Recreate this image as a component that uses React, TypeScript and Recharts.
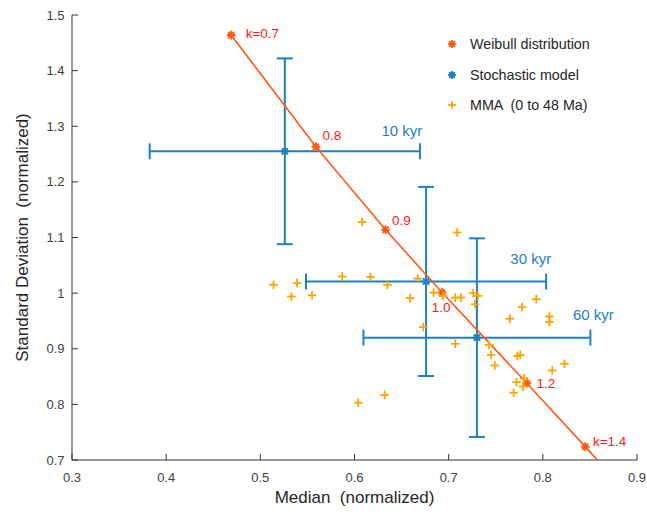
import React from "react";
import { ScatterChart, Scatter, XAxis, YAxis, ErrorBar, Legend } from "recharts";

// Weibull distribution, one point per shape parameter k
const weibullLabels = ["k=0.7", "0.8", "0.9", "1.0", "1.2", "k=1.4"];
const weibullMedian = [0.469, 0.559, 0.633, 0.693, 0.783, 0.845];
const weibullStd = [1.464, 1.263, 1.114, 1.001, 0.838, 0.724];

// the curve keeps going past k=1.4 down to the bottom axis
const curveMedian = [...weibullMedian, 0.858];
const curveStd = [...weibullStd, 0.7];

// stochastic model, centre +/- spread
const modelLabels = ["10 kyr", "30 kyr", "60 kyr"];
const modelMedian = [0.526, 0.676, 0.73];
const modelStd = [1.255, 1.021, 0.92];
const modelMedianErr = [0.1435, 0.1275, 0.1205];
const modelStdErr = [0.167, 0.17, 0.1785];

// MMA samples (0 to 48 Ma)
const mmaMedian = [
  0.608, 0.514, 0.539, 0.533, 0.555, 0.587, 0.617, 0.635, 0.667, 0.659,
  0.673, 0.709, 0.684, 0.694, 0.707, 0.713, 0.726, 0.731, 0.728, 0.707,
  0.793, 0.778, 0.765, 0.807, 0.807, 0.743, 0.745, 0.749, 0.773, 0.776,
  0.823, 0.81, 0.772, 0.78, 0.779, 0.769, 0.632, 0.604,
];
const mmaStd = [
  1.128, 1.015, 1.018, 0.994, 0.996, 1.03, 1.029, 1.015, 1.026, 0.991,
  0.939, 1.109, 1.001, 0.995, 0.992, 0.992, 1.0, 0.995, 0.98, 0.909,
  0.989, 0.975, 0.954, 0.958, 0.948, 0.907, 0.889, 0.87, 0.887, 0.889,
  0.873, 0.861, 0.84, 0.847, 0.832, 0.821, 0.817, 0.803,
];

const xTicks = [0.3, 0.4, 0.5, 0.6, 0.7, 0.8, 0.9];
const yTicks = [0.7, 0.8, 0.9, 1, 1.1, 1.2, 1.3, 1.4, 1.5];

const seriesNames = ["Weibull distribution", "Stochastic model", "MMA  (0 to 48 Ma)"];
const xTitle = "Median  (normalized)";
const yTitle = "Standard Deviation  (normalized)";

const weibullData = weibullMedian.map((x, i) => ({ x, y: weibullStd[i], label: weibullLabels[i], i }));
const curveData = curveMedian.map((x, i) => ({ x, y: curveStd[i] }));
const modelData = modelMedian.map((x, i) => ({
  x,
  y: modelStd[i],
  ex: modelMedianErr[i],
  ey: modelStdErr[i],
  label: modelLabels[i],
  i,
}));
const mmaData = mmaMedian.map((x, i) => ({ x, y: mmaStd[i] }));

const FONT = "'Liberation Sans', Arial, Helvetica, sans-serif";
const AXIS = "#333333";
const TEXT = "#262626";
const TICK_TEXT = "#404040";
const ORANGE_RED = "#ff5a14";
const LABEL_RED = "#ff1a1a";
const BLUE = "#1f80c4";
const ORANGE = "#f7a800";

// label offsets from the marker (text start, vertical centre)
const weibullLabelOffsets = [[14.5, -1.7], [6.7, -11.3], [6.3, -9.3], [-10.3, 14.7], [9.7, 0], [7.7, -5]];
const modelLabelOffsets = [[96.7, -21], [84.3, -23.4], [96, -22.7]];

function Asterisk({ cx, cy, color, r = 3.6 }: { cx: number; cy: number; color: string; r?: number }) {
  const d = r * 0.7071;
  return (
    <g stroke={color} strokeWidth={2} strokeLinecap="round">
      <line x1={cx - r} y1={cy} x2={cx + r} y2={cy} />
      <line x1={cx} y1={cy - r} x2={cx} y2={cy + r} />
      <line x1={cx - d} y1={cy - d} x2={cx + d} y2={cy + d} />
      <line x1={cx - d} y1={cy + d} x2={cx + d} y2={cy - d} />
      <circle cx={cx} cy={cy} r={2.2} fill={color} stroke="none" />
    </g>
  );
}

function Plus({ cx, cy, color, r = 4.3 }: { cx: number; cy: number; color: string; r?: number }) {
  return (
    <g stroke={color} strokeWidth={1.8}>
      <line x1={cx - r} y1={cy} x2={cx + r} y2={cy} />
      <line x1={cx} y1={cy - r} x2={cx} y2={cy + r} />
    </g>
  );
}

const WeibullShape = (props: any) => {
  const { cx, cy, payload } = props;
  const [dx, dy] = weibullLabelOffsets[payload.i];
  return (
    <g>
      <Asterisk cx={cx} cy={cy} color={ORANGE_RED} />
      <text x={cx + dx} y={cy + dy} fill={LABEL_RED} fontSize={13.5} fontFamily={FONT} dominantBaseline="central">
        {payload.label}
      </text>
    </g>
  );
};

const ModelShape = (props: any) => {
  const { cx, cy, payload } = props;
  const [dx, dy] = modelLabelOffsets[payload.i];
  return (
    <g>
      <Asterisk cx={cx} cy={cy} color={BLUE} />
      <text x={cx + dx} y={cy + dy} fill={BLUE} fontSize={15} fontFamily={FONT} dominantBaseline="central">
        {payload.label}
      </text>
    </g>
  );
};

const MmaShape = (props: any) => <Plus cx={props.cx} cy={props.cy} color={ORANGE} />;

// ticks point inward like a boxed matlab axes
const BottomTick = (props: any) => {
  const { x, y, payload } = props;
  return (
    <g>
      <line x1={x} x2={x} y1={y} y2={y - 6} stroke={AXIS} />
      <text x={x} y={y + 17} textAnchor="middle" dominantBaseline="central" fontSize={13} fontFamily={FONT} fill={TICK_TEXT}>
        {payload.value}
      </text>
    </g>
  );
};

const LeftTick = (props: any) => {
  const { x, y, payload } = props;
  return (
    <g>
      <line x1={x} x2={x + 6} y1={y} y2={y} stroke={AXIS} />
      <text x={x - 7.5} y={y} textAnchor="end" dominantBaseline="central" fontSize={13} fontFamily={FONT} fill={TICK_TEXT}>
        {payload.value}
      </text>
    </g>
  );
};

const TopTick = (props: any) => <line x1={props.x} x2={props.x} y1={props.y} y2={props.y + 6} stroke={AXIS} />;
const RightTick = (props: any) => <line x1={props.x} x2={props.x - 6} y1={props.y} y2={props.y} stroke={AXIS} />;

const XTitle = (props: any) => {
  const vb = props.viewBox ?? { x: 72, y: 460, width: 565, height: 54 };
  return (
    <text
      x={vb.x + vb.width / 2}
      y={vb.y + 37}
      textAnchor="middle"
      dominantBaseline="central"
      fontSize={17}
      fontFamily={FONT}
      fill={TEXT}
      style={{ whiteSpace: "pre" }}
    >
      {xTitle}
    </text>
  );
};

const YTitle = (props: any) => {
  const vb = props.viewBox ?? { x: 0, y: 15, width: 72, height: 445 };
  const cx = vb.x + 22;
  const cy = vb.y + vb.height / 2;
  return (
    <text
      x={cx}
      y={cy}
      transform={`rotate(-90 ${cx} ${cy})`}
      textAnchor="middle"
      dominantBaseline="central"
      fontSize={17}
      fontFamily={FONT}
      fill={TEXT}
      style={{ whiteSpace: "pre" }}
    >
      {yTitle}
    </text>
  );
};

function LegendBox() {
  return (
    <div style={{ fontFamily: FONT, fontSize: 14.3, color: TEXT }}>
      {seriesNames.map((name, i) => (
        <div key={name} style={{ display: "flex", alignItems: "center", height: 30.5 }}>
          <svg width={18} height={14} style={{ display: "block" }}>
            {i === 0 && <Asterisk cx={9} cy={7} color={ORANGE_RED} r={3.2} />}
            {i === 1 && <Asterisk cx={9} cy={7} color={BLUE} r={3.2} />}
            {i === 2 && <Plus cx={9} cy={7} color={ORANGE} r={3.8} />}
          </svg>
          <span style={{ marginLeft: 9, whiteSpace: "pre" }}>{name}</span>
        </div>
      ))}
    </div>
  );
}

export default function App() {
  return (
    <div style={{ position: "absolute", left: 0, top: 0, background: "#fff" }}>
      <ScatterChart width={647} height={514} margin={{ top: 15, right: 10, bottom: 0, left: 0 }} style={{ fontFamily: FONT }}>
        <XAxis
          xAxisId="x"
          type="number"
          dataKey="x"
          domain={[0.3, 0.9]}
          allowDataOverflow
          ticks={xTicks}
          height={54}
          tickSize={0}
          tickMargin={0}
          tickLine={false}
          axisLine={{ stroke: AXIS }}
          tick={<BottomTick />}
          label={<XTitle />}
        />
        <XAxis
          xAxisId="top"
          orientation="top"
          type="number"
          domain={[0.3, 0.9]}
          allowDataOverflow
          ticks={xTicks}
          height={0}
          tickSize={0}
          tickMargin={0}
          tickLine={false}
          axisLine={{ stroke: AXIS }}
          tick={<TopTick />}
        />
        <YAxis
          yAxisId="y"
          type="number"
          dataKey="y"
          domain={[0.7, 1.5]}
          allowDataOverflow
          ticks={yTicks}
          width={72}
          tickSize={0}
          tickMargin={0}
          tickLine={false}
          axisLine={{ stroke: AXIS }}
          tick={<LeftTick />}
          label={<YTitle />}
        />
        <YAxis
          yAxisId="right"
          orientation="right"
          type="number"
          domain={[0.7, 1.5]}
          allowDataOverflow
          ticks={yTicks}
          width={0}
          tickSize={0}
          tickMargin={0}
          tickLine={false}
          axisLine={{ stroke: AXIS }}
          tick={<RightTick />}
        />
        <Legend
          layout="vertical"
          align="center"
          verticalAlign="middle"
          wrapperStyle={{ left: 443, top: 29, width: 200, height: 92 }}
          content={() => <LegendBox />}
        />
        <Scatter
          xAxisId="x"
          yAxisId="y"
          data={curveData}
          line={{ stroke: ORANGE_RED, strokeWidth: 1.6 }}
          shape={() => <g />}
          legendType="none"
          isAnimationActive={false}
        />
        <Scatter
          name={seriesNames[0]}
          xAxisId="x"
          yAxisId="y"
          data={weibullData}
          shape={WeibullShape}
          isAnimationActive={false}
        />
        <Scatter
          name={seriesNames[1]}
          xAxisId="x"
          yAxisId="y"
          data={modelData}
          shape={ModelShape}
          isAnimationActive={false}
        >
          <ErrorBar dataKey="ex" direction="x" stroke={BLUE} strokeWidth={2} width={8} isAnimationActive={false} />
          <ErrorBar dataKey="ey" direction="y" stroke={BLUE} strokeWidth={2} width={8} isAnimationActive={false} />
        </Scatter>
        <Scatter
          name={seriesNames[2]}
          xAxisId="x"
          yAxisId="y"
          data={mmaData}
          shape={MmaShape}
          isAnimationActive={false}
        />
      </ScatterChart>
    </div>
  );
}
